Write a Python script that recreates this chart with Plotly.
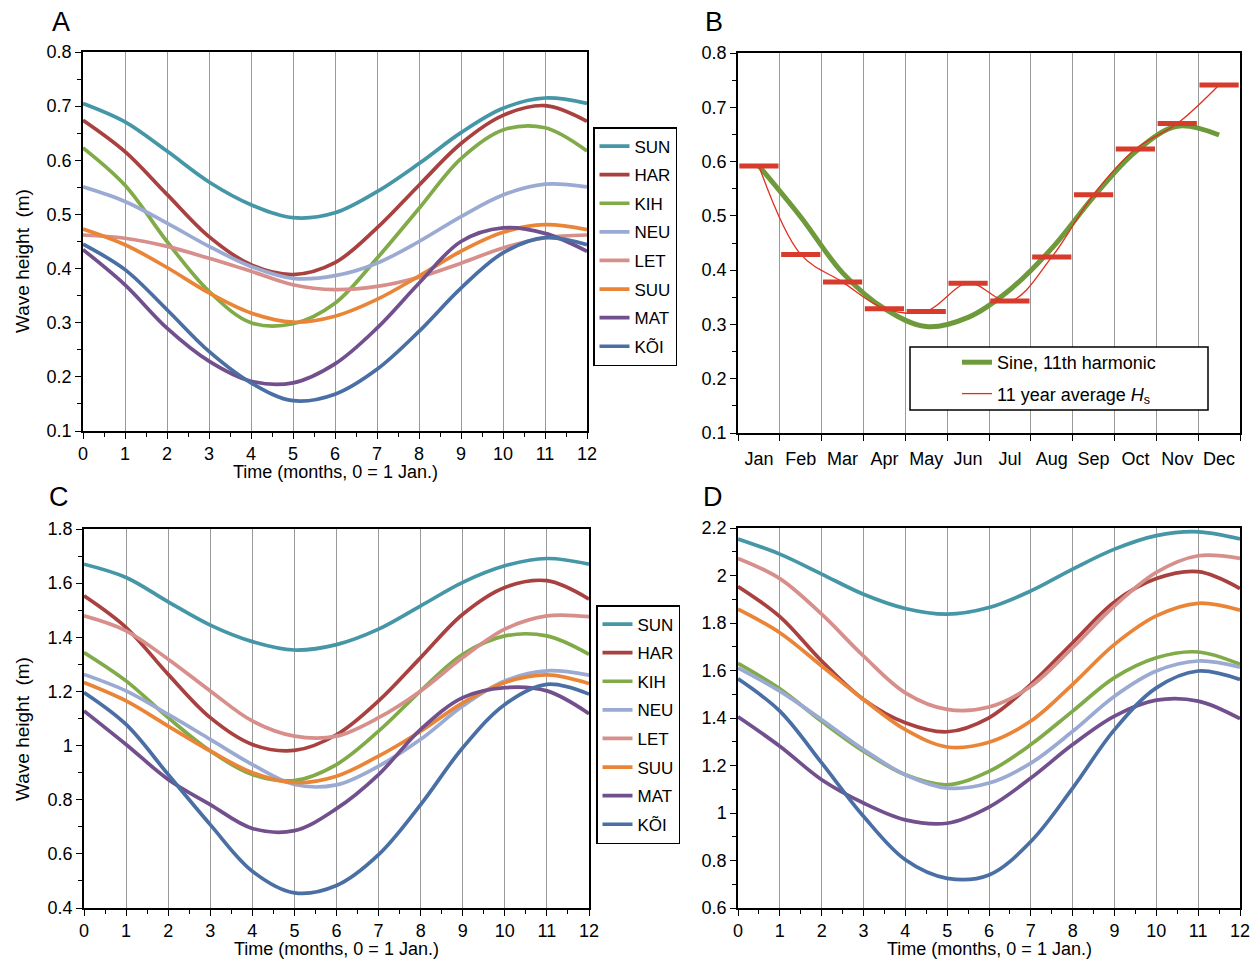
import plotly.graph_objects as go

# ---------------- data ----------------
MONTHS_NUM = [0, 1, 2, 3, 4, 5, 6, 7, 8, 9, 10, 11, 12]
SERIES = ["SUN", "HAR", "KIH", "NEU", "LET", "SUU", "MAT", "KÕI"]
COLORS = ["#4596a6", "#a8413f", "#80ab48", "#9aaad2", "#d78f8b", "#ea8537", "#71508d", "#4a6fa5"]

# Panel A
SUN_A = [0.705, 0.671, 0.617, 0.560, 0.518, 0.494, 0.503, 0.542, 0.594, 0.651, 0.696, 0.715, 0.705]
HAR_A = [0.674, 0.616, 0.537, 0.459, 0.407, 0.389, 0.411, 0.475, 0.554, 0.631, 0.683, 0.701, 0.672]
KIH_A = [0.623, 0.554, 0.450, 0.358, 0.300, 0.298, 0.336, 0.419, 0.511, 0.603, 0.656, 0.660, 0.617]
NEU_A = [0.551, 0.524, 0.484, 0.441, 0.404, 0.382, 0.387, 0.410, 0.450, 0.496, 0.536, 0.556, 0.551]
LET_A = [0.462, 0.456, 0.441, 0.419, 0.395, 0.370, 0.361, 0.367, 0.384, 0.410, 0.438, 0.457, 0.462]
SUU_A = [0.473, 0.444, 0.402, 0.355, 0.318, 0.301, 0.312, 0.343, 0.386, 0.432, 0.467, 0.481, 0.472]
MAT_A = [0.435, 0.370, 0.290, 0.229, 0.192, 0.189, 0.224, 0.290, 0.373, 0.450, 0.475, 0.465, 0.432]
KOI_A = [0.445, 0.398, 0.324, 0.247, 0.189, 0.156, 0.168, 0.214, 0.284, 0.364, 0.429, 0.457, 0.444]

# Panel B
MONTH_LABELS = ["Jan", "Feb", "Mar", "Apr", "May", "Jun", "Jul", "Aug", "Sep", "Oct", "Nov", "Dec"]
SINE_B = [0.592, 0.498, 0.395, 0.329, 0.296, 0.313, 0.364, 0.440, 0.535, 0.618, 0.665, 0.649]
AVG_HS_B = [0.592, 0.429, 0.378, 0.329, 0.324, 0.376, 0.343, 0.424, 0.539, 0.623, 0.670, 0.741]

# Panel C
SUN_C = [1.670, 1.621, 1.531, 1.445, 1.384, 1.353, 1.373, 1.430, 1.516, 1.603, 1.664, 1.691, 1.670]
HAR_C = [1.553, 1.436, 1.263, 1.103, 1.004, 0.982, 1.040, 1.165, 1.325, 1.485, 1.584, 1.609, 1.541]
KIH_C = [1.344, 1.239, 1.103, 0.980, 0.893, 0.871, 0.930, 1.053, 1.202, 1.337, 1.405, 1.405, 1.337]
NEU_C = [1.263, 1.202, 1.115, 1.023, 0.930, 0.856, 0.855, 0.924, 1.023, 1.146, 1.239, 1.276, 1.260]
LET_C = [1.479, 1.424, 1.319, 1.202, 1.091, 1.035, 1.035, 1.103, 1.202, 1.325, 1.430, 1.479, 1.476]
SUU_C = [1.233, 1.165, 1.072, 0.980, 0.900, 0.863, 0.887, 0.961, 1.053, 1.158, 1.233, 1.261, 1.229]
MAT_C = [1.128, 1.004, 0.875, 0.782, 0.694, 0.686, 0.767, 0.893, 1.060, 1.177, 1.214, 1.202, 1.118]
KOI_C = [1.196, 1.078, 0.893, 0.708, 0.536, 0.456, 0.483, 0.597, 0.782, 0.992, 1.152, 1.226, 1.190]

# Panel D
SUN_D = [2.154, 2.090, 2.006, 1.921, 1.861, 1.837, 1.865, 1.935, 2.027, 2.111, 2.168, 2.184, 2.154]
HAR_D = [1.954, 1.827, 1.640, 1.478, 1.380, 1.342, 1.401, 1.542, 1.717, 1.889, 1.987, 2.016, 1.945]
KIH_D = [1.630, 1.523, 1.386, 1.260, 1.161, 1.119, 1.175, 1.288, 1.429, 1.570, 1.654, 1.678, 1.626]
NEU_D = [1.611, 1.513, 1.393, 1.267, 1.161, 1.105, 1.126, 1.210, 1.344, 1.492, 1.598, 1.640, 1.614]
LET_D = [2.072, 1.987, 1.837, 1.661, 1.506, 1.436, 1.446, 1.534, 1.696, 1.872, 2.013, 2.083, 2.072]
SUU_D = [1.858, 1.759, 1.619, 1.478, 1.351, 1.278, 1.298, 1.387, 1.542, 1.710, 1.830, 1.883, 1.854]
MAT_D = [1.405, 1.281, 1.140, 1.042, 0.971, 0.957, 1.025, 1.147, 1.288, 1.408, 1.475, 1.471, 1.397]
KOI_D = [1.565, 1.429, 1.211, 0.986, 0.803, 0.725, 0.739, 0.880, 1.105, 1.351, 1.527, 1.598, 1.562]

PANEL_A = [SUN_A, HAR_A, KIH_A, NEU_A, LET_A, SUU_A, MAT_A, KOI_A]
PANEL_C = [SUN_C, HAR_C, KIH_C, NEU_C, LET_C, SUU_C, MAT_C, KOI_C]
PANEL_D = [SUN_D, HAR_D, KIH_D, NEU_D, LET_D, SUU_D, MAT_D, KOI_D]

X_TITLE = "Time (months, 0 = 1 Jan.)"
Y_TITLE = "Wave height\u00a0 (m)"

# ---------------- figure ----------------
W, H = 1257, 960
FONT = "Arial, Liberation Sans, sans-serif"


def px_x(p):
    return p / W


def px_y(p):
    return 1 - p / H


fig = go.Figure()

for panel, (xa, ya, lg) in zip(
    [PANEL_A, PANEL_C, PANEL_D],
    [("x", "y", "legend"), ("x3", "y3", "legend2"), ("x4", "y4", None)],
):
    for name, color, vals in zip(SERIES, COLORS, panel):
        fig.add_trace(go.Scatter(
            x=MONTHS_NUM, y=vals, mode="lines", name=name,
            line=dict(color=color, width=3.7, shape="spline", smoothing=1.0),
            xaxis=xa, yaxis=ya,
            legend=lg if lg else "legend",
            legendgroup=f"{xa}_{name}",
            showlegend=lg is not None,
            hoverinfo="skip",
        ))

# Panel B
fig.add_trace(go.Scatter(
    x=MONTH_LABELS, y=SINE_B, mode="lines", name="Sine, 11th harmonic",
    line=dict(color="#6f9a3b", width=5, shape="spline", smoothing=1.0),
    xaxis="x2", yaxis="y2", legend="legend3", legendgroup="b1",
))
fig.add_trace(go.Scatter(
    x=MONTH_LABELS, y=AVG_HS_B, mode="lines", name="11 year average <i>H</i><sub>s</sub>",
    line=dict(color="#e0301e", width=1.3, shape="spline", smoothing=1.0),
    xaxis="x2", yaxis="y2", legend="legend3", legendgroup="b2",
))
fig.add_trace(go.Scatter(
    x=MONTH_LABELS, y=AVG_HS_B, mode="markers", showlegend=False,
    marker=dict(symbol="line-ew", size=28, line=dict(color="#d63b2b", width=5)),
    xaxis="x2", yaxis="y2",
))

tickfont = dict(family=FONT, size=18, color="black")

# domains in page pixels
DOM = {
    "A": ((83, 587), (52, 431)),
    "B": ((738, 1240), (53, 433)),
    "C": ((84, 589), (529, 908)),
    "D": ((738, 1240), (528, 908)),
}


def xdom(k):
    a, b = DOM[k][0]
    return [px_x(a), px_x(b)]


def ydom(k):
    a, b = DOM[k][1]
    return [px_y(b), px_y(a)]


def num_xaxis(k, anchor):
    return dict(
        domain=xdom(k), anchor=anchor, range=[0, 12], dtick=1, tick0=0,
        automargin=False, ticklabeloverflow="allow",
        showline=True, linecolor="black", linewidth=1.5, mirror=True,
        ticks="outside", ticklen=6, tickwidth=1.3, tickcolor="black",
        minor=dict(dtick=0.5, ticks="outside", ticklen=4, tickwidth=1.2, tickcolor="black", showgrid=False),
        showgrid=True, gridcolor="#9a9a9a", gridwidth=1.2, zeroline=False,
        tickfont=tickfont,
    )


def num_yaxis(k, anchor, rng, dtick, mdt):
    return dict(
        domain=ydom(k), anchor=anchor, range=rng, dtick=dtick, tick0=rng[0],
        automargin=False, ticklabeloverflow="allow",
        showline=True, linecolor="black", linewidth=1.5, mirror=True,
        ticks="outside", ticklen=6, tickwidth=1.3, tickcolor="black",
        minor=dict(dtick=mdt, ticks="outside", ticklen=4, tickwidth=1.2, tickcolor="black", showgrid=False),
        showgrid=False, zeroline=False, tickfont=tickfont,
    )


annotations = [
    dict(text=t, x=px_x(xx), y=px_y(yy), xref="paper", yref="paper",
         showarrow=False, xanchor="center", yanchor="middle",
         font=dict(family=FONT, size=27, color="black"))
    for t, xx, yy in [("A", 61, 22), ("B", 714, 22), ("C", 59, 497), ("D", 713, 497)]
]
for xx, yy in [(335, 472), (336, 949), (989, 949)]:
    annotations.append(dict(text=X_TITLE, x=px_x(xx), y=px_y(yy), xref="paper", yref="paper",
                            showarrow=False, xanchor="center", yanchor="middle",
                            font=dict(family=FONT, size=18, color="black")))
for xx, yy in [(22, 261), (22, 729)]:
    annotations.append(dict(text=Y_TITLE, x=px_x(xx), y=px_y(yy), xref="paper", yref="paper",
                            showarrow=False, xanchor="center", yanchor="middle", textangle=-90,
                            font=dict(family=FONT, size=19, color="black")))

fig.update_layout(
    width=W, height=H,
    margin=dict(l=0, r=0, t=0, b=0, autoexpand=False),
    paper_bgcolor="white", plot_bgcolor="white",
    font=dict(family=FONT, color="black"),
    xaxis=num_xaxis("A", "y"),
    yaxis=num_yaxis("A", "x", [0.1, 0.8], 0.1, 0.05),
    xaxis2=dict(
        domain=xdom("B"), anchor="y2", type="category", range=[-0.5, 11.5],
        automargin=False, tickangle=0, ticklabeloverflow="allow",
        tickson="boundaries", ticks="outside", ticklen=6, tickwidth=1.3, tickcolor="black",
        ticklabelstandoff=9,
        showline=True, linecolor="black", linewidth=1.5, mirror=True,
        showgrid=True, gridcolor="#9a9a9a", gridwidth=1.2, zeroline=False,
        tickfont=tickfont,
    ),
    yaxis2=num_yaxis("B", "x2", [0.1, 0.8], 0.1, 0.05),
    xaxis3=num_xaxis("C", "y3"),
    yaxis3=num_yaxis("C", "x3", [0.4, 1.8], 0.2, 0.1),
    xaxis4=num_xaxis("D", "y4"),
    yaxis4=num_yaxis("D", "x4", [0.6, 2.2], 0.2, 0.1),
    legend=dict(
        x=px_x(593), y=px_y(127), xanchor="left", yanchor="top",
        bordercolor="black", borderwidth=1.5, bgcolor="white",
        font=dict(family=FONT, size=17, color="black"),
        tracegroupgap=3.5, itemwidth=30,
    ),
    legend2=dict(
        x=px_x(596), y=px_y(605), xanchor="left", yanchor="top",
        bordercolor="black", borderwidth=1.5, bgcolor="white",
        font=dict(family=FONT, size=17, color="black"),
        tracegroupgap=3.5, itemwidth=30,
    ),
    legend3=dict(
        x=px_x(957), y=px_y(344), xanchor="left", yanchor="top",
        borderwidth=0, bgcolor="rgba(0,0,0,0)",
        font=dict(family=FONT, size=18, color="black"),
        tracegroupgap=5, itemwidth=30,
    ),
    shapes=[
        dict(type="rect", xref="paper", yref="paper",
             x0=px_x(910), x1=px_x(1208), y0=px_y(410), y1=px_y(347),
             line=dict(color="black", width=1.5), fillcolor="white", layer="above"),
    ],
    annotations=annotations,
)

fig.write_html(
    "out.html",
    config={"displayModeBar": False},
    post_script="document.body.style.margin='0px';document.body.style.overflow='hidden';",
)
